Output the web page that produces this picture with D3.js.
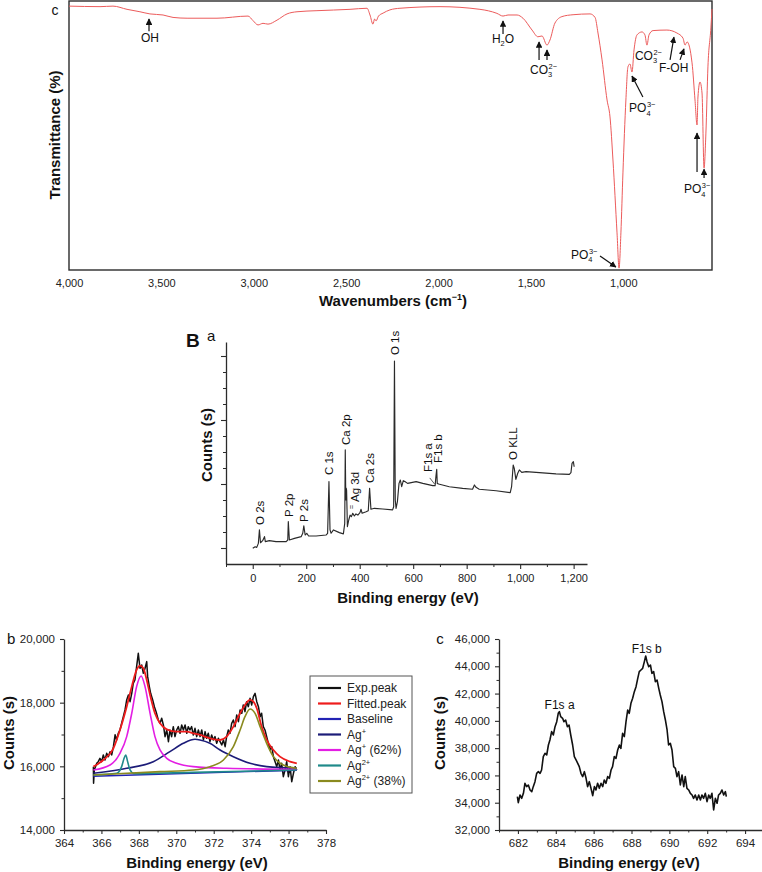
<!DOCTYPE html>
<html><head><meta charset="utf-8">
<script src="https://cdn.jsdelivr.net/npm/d3@7"></script>
<style>
body{margin:0;background:#fff}
svg{display:block}
</style></head>
<body><svg id="chart" width="762" height="872"></svg>
<script>
// ---------------- DATA ----------------
// Panel c (FTIR)
const ftirWn = [4000,3832,3762,3686,3616,3562,3491,3437,3361,3199,3031,3004,2977,2950,2923,2874,2820,2766,2658,2479,2387,2371,2355,2346,2338,2325,2300,2263,2209,1992,1776,1684,1651,1624,1575,1543,1494,1462,1440,1413,1397,1370,1332,1272,1180,1153,1137,1115,1088,1072,1056,1034,1023,1013,1002,986,975,964,953,942,926,899,883,872,861,839,764,710,677,666,655,628,612,601,596,585,574,563,553,542,526,520];
const ftirT = [98.1,97.9,98.1,96.9,96.0,95.2,94.8,93.9,93.6,93.6,94.4,92.7,91.1,91.7,91.4,92.9,95.2,96.0,96.4,96.9,97.3,94.8,91.4,93.3,92.6,94.4,95.5,96.7,97.3,97.9,96.9,95.4,94.4,94.8,94.8,93.6,89.2,86.7,87.0,83.6,85.5,91.8,94.2,94.9,95.2,93.9,88.1,78.1,63.2,56.9,40.9,13.8,0.7,13.8,36.1,63.2,75.5,76.6,73.6,81.8,87.4,88.5,87.4,83.6,87.4,89.0,89.2,88.1,86.2,83.6,84.8,77.0,63.2,53.9,64.3,69.9,65.8,37.9,50.9,75.5,90.0,97.0];
const ftirTicks = [4000,3500,3000,2500,2000,1500,1000];
// annotations: label parts, label anchor (wn,T), arrows [wnTail,Ttail,wnHead,Thead]
const ftirNotes = [
  {parts:[["OH"]], wn:3562, T:84.8, anchor:"middle", arrows:[[3567,88.8,3567,93.3]]},
  {parts:[["H"],["2","sub"],["O"]], wn:1651, T:84.4, anchor:"middle", arrows:[[1651,87.7,1651,92.6]]},
  {parts:[["CO"],["3","sub"],["2−","sup"]], wn:1505, T:72.9, anchor:"start", arrows:[[1456,78.1,1456,84.8],[1413,78.1,1413,81.8]]},
  {parts:[["PO"],["4","sub"],["3−","sup"]], wn:1283, T:4.1, anchor:"start", arrows:[[1126,5.2,1040,1.1]]},
  {parts:[["PO"],["4","sub"],["3−","sup"]], wn:969, T:58.7, anchor:"start", arrows:[[894,64.3,953,72.1]]},
  {parts:[["CO"],["3","sub"],["2−","sup"]], wn:937, T:78.1, anchor:"start", arrows:[]},
  {parts:[["F-OH"]], wn:807, T:73.6, anchor:"start", arrows:[[747,78.1,726,86.6],[693,78.1,672,82.2]]},
  {parts:[["PO"],["4","sub"],["3−","sup"]], wn:672, T:28.6, anchor:"start", arrows:[[601,36.4,601,50.9],[563,34.2,563,37.5]]}
];

// Panel B a (XPS survey)
const surveyEV = [0,9,15,21,25,29,37,44,47,62,87,125,131,133,137,156,181,187,191,196,202,209,237,274,280,285,289,293,302,324,339,344,346,348,349.5,351,354,359,364,369,374,380,386,393,401,405,409,424,432,437,442,455,486,523,527,530,533,536,541,547,552,557,563,569,579,611,636,673,682,685,688,690,695,735,785,822,829,835,847,910,963,968,974,978,984,991,997,1006,1022,1072,1134,1184,1190,1194,1199,1202];
const surveyCounts = [0.98,1.08,1.04,1.29,2.13,1.33,1.46,1.71,1.40,1.46,1.40,1.40,1.50,2.65,1.50,1.60,1.71,1.92,2.38,1.81,1.92,1.75,1.75,1.81,1.92,5.15,2.13,1.92,2.13,1.96,1.88,2.54,7.13,4.0,4.75,4.6,2.33,2.75,3.06,2.96,3.17,3.0,3.13,3.06,3.21,3.42,3.17,3.27,3.33,4.73,3.42,3.48,3.44,3.38,3.58,12.69,4.0,3.48,3.9,5.04,5.25,4.83,5.21,5.15,5.04,5.15,5.04,4.90,4.90,5.46,5.92,5.04,5.0,4.83,4.73,4.67,4.94,4.79,4.67,4.58,4.46,4.83,6.19,5.98,5.29,5.67,5.88,5.73,5.77,5.71,5.63,5.60,5.71,6.29,6.40,6.08];
const surveyXTicks = [0,200,400,600,800,1000,1200];
const surveyLabels = [
  {text:"O 2s", ev:26, v:2.44},{text:"P 2p", ev:135, v:2.94},{text:"P 2s", ev:191, v:2.63},
  {text:"C 1s", ev:284, v:5.56},{text:"Ca 2p", ev:348, v:7.44},{text:"Ag 3d", ev:381, v:3.88},
  {text:"Ca 2s", ev:437, v:5.06},{text:"O 1s", ev:531, v:13.06},{text:"F1s a", ev:654, v:5.75},
  {text:"F1s b", ev:692, v:6.31},{text:"O KLL", ev:972, v:6.5}
];

// Panel b (Ag 3d)
const agExpEV = [365.57,365.58,365.62,365.75,365.83,365.92,366.01,366.10,366.19,366.28,366.37,366.46,366.55,366.64,366.73,366.81,366.90,366.99,367.08,367.17,367.26,367.35,367.44,367.53,367.62,367.70,367.79,367.88,367.97,368.06,368.15,368.24,368.33,368.42,368.47,368.56,368.63,368.74,368.83,368.92,369.04,369.13,369.22,369.31,369.40,369.49,369.58,369.66,369.75,369.84,369.93,370.02,370.11,370.20,370.29,370.38,370.47,370.56,370.64,370.73,370.82,370.91,371.00,371.09,371.18,371.27,371.36,371.45,371.54,371.62,371.71,371.80,371.89,371.98,372.07,372.16,372.25,372.34,372.43,372.52,372.61,372.69,372.78,372.87,372.96,373.05,373.14,373.23,373.32,373.41,373.50,373.58,373.67,373.76,373.85,373.94,374.03,374.12,374.21,374.30,374.39,374.48,374.56,374.65,374.74,374.83,374.92,375.01,375.10,375.19,375.28,375.37,375.46,375.54,375.63,375.72,375.81,375.90,375.99,376.08,376.17,376.26,376.35,376.44];
const agExpCounts = [15990,15466,15885,16095,16147,16252,16147,16357,16199,16409,16304,16461,16357,16618,16990,16828,17037,17142,17352,17561,17771,18085,18242,18032,18294,18608,18713,19132,19551,19080,19184,18923,19080,19289,18818,18504,18294,18085,17875,17718,17456,17352,17509,17299,16933,17142,16775,17142,16933,17247,16933,17142,17247,17037,17299,17142,17299,17037,17247,17142,17247,16985,17194,16933,17142,16933,17142,16828,17090,16880,17037,16775,16985,16828,16933,16723,16880,16775,16671,16828,16618,16933,17142,17037,17352,17456,17247,17614,17404,17771,17666,17928,17718,18032,17875,18137,17928,18189,18294,18032,17875,17561,17666,17247,17142,16933,16723,16514,16618,16304,16147,15990,16199,15885,16095,15676,15885,16147,15676,15990,15519,15781,15990,15885];
const fitEV = [365.57,366.10,366.64,366.99,367.35,367.62,367.88,368.06,368.24,368.42,368.60,368.86,369.13,369.49,370.02,370.56,370.91,371.27,371.80,372.34,372.69,373.05,373.41,373.67,373.94,374.12,374.30,374.56,374.83,375.19,375.54,376.08,376.44];
const fitCounts = [15990,16199,16566,17142,17875,18504,19027,19163,19080,18713,18242,17666,17352,17163,17090,17090,17037,16985,16880,16828,16933,17247,17666,17928,18085,18032,17823,17247,16828,16514,16304,16147,16095];
const baseEV = [365.57,376.44];
const baseCounts = [15690,15880];
const agPlusEV = [365.57,367.35,368.77,369.66,370.38,371.00,371.27,371.80,372.34,373.05,373.94,374.83,376.44];
const agPlusCounts = [15781,15938,16147,16461,16723,16849,16828,16723,16514,16304,16095,15990,15938];
const agPlus62EV = [365.57,366.46,366.99,367.35,367.62,367.88,368.12,368.33,368.60,368.86,369.13,369.49,370.02,370.91,372.69,376.44];
const agPlus62Counts = [15885,16042,16409,16933,17666,18504,18839,18504,17666,16933,16514,16252,16095,15990,15938,15906];
const ag2EV = [365.57,366.81,367.08,367.21,367.30,367.40,367.53,367.74,370.91,376.44];
const ag2Counts = [15728,15781,15990,16252,16357,16147,15885,15770,15810,15885];
const ag2_38EV = [365.57,369.13,370.91,371.80,372.52,373.05,373.41,373.67,373.94,374.21,374.48,374.83,375.19,375.72,376.44];
const ag2_38Counts = [15728,15833,15885,15990,16199,16618,17142,17561,17802,17666,17247,16723,16304,16042,15938];
const agLegend = ["Exp.peak","Fitted.peak","Baseline","Ag+","Ag+ (62%)","Ag2+","Ag2+ (38%)"];
const agColors = ["#111111","#ee1c1c","#2323b4","#1c1c78","#e31ee3","#1f8a8a","#8a8a1f"];
const agXTicks = [364,366,368,370,372,374,376,378];
const agYTicks = [14000,16000,18000,20000];

// Panel c (F 1s)
const fEV = [681.97,682.02,682.11,682.20,682.29,682.37,682.46,682.55,682.64,682.73,682.81,682.90,682.99,683.08,683.17,683.25,683.34,683.43,683.52,683.61,683.69,683.78,683.87,683.96,684.05,684.13,684.19,684.26,684.36,684.43,684.52,684.61,684.70,684.79,684.89,684.98,685.07,685.16,685.24,685.33,685.42,685.51,685.60,685.68,685.77,685.86,685.95,686.04,686.12,686.21,686.30,686.39,686.48,686.56,686.65,686.74,686.83,686.92,687.00,687.09,687.18,687.27,687.36,687.44,687.53,687.62,687.71,687.80,687.88,687.97,688.06,688.15,688.24,688.33,688.41,688.50,688.59,688.68,688.75,688.82,688.91,689.00,689.08,689.17,689.26,689.35,689.44,689.52,689.61,689.70,689.79,689.88,689.96,690.05,690.14,690.23,690.32,690.40,690.49,690.58,690.67,690.76,690.84,690.93,691.02,691.11,691.20,691.28,691.37,691.46,691.55,691.64,691.72,691.81,691.90,691.99,692.08,692.16,692.25,692.34,692.43,692.52,692.60,692.69,692.78,692.87,692.96,693.01];
const fCounts = [34445,34006,34567,34323,34689,35422,35178,35300,34934,34811,35178,35544,36155,36277,36155,36399,37376,37620,37498,38231,38598,39209,38964,39575,39942,40553,40675,40308,40186,39942,40064,39575,39697,38964,38231,37376,37132,36888,36643,36155,35911,36277,35789,35178,35544,35056,34518,35178,34934,35422,35056,35422,35178,35666,35422,35911,35789,36399,36643,37376,37254,37865,38231,37987,39087,38842,39942,40797,40553,41286,41652,42140,42507,43118,43606,43728,43851,44339,44754,44339,43973,44095,43484,43606,42873,42995,42385,41896,41408,40675,40064,39331,38231,38354,37865,36643,36521,35911,36277,35300,36033,35178,35911,35056,34934,34689,34567,34323,34567,34201,34567,34201,34567,34323,34689,34079,34567,34323,34689,33468,34323,33957,34567,34689,34934,34567,34811,34445];
const fXTicks = [682,684,686,688,690,692,694];
const fYTicks = [32000,34000,36000,38000,40000,42000,44000,46000];
const fPeakLabels = [{text:"F1s a", ev:684.2, c:40900},{text:"F1s b", ev:688.8, c:45000}];

// ---------------- DRAW ----------------
const FONT = '"Liberation Sans", Arial, Helvetica, sans-serif';
const INK = "#2b2b2b";
const svg = d3.select("#chart").attr("font-family", FONT);
const fmt = d3.format(",");

svg.append("defs").append("marker")
  .attr("id","arr").attr("viewBox","0 0 10 10").attr("refX",9).attr("refY",5)
  .attr("markerWidth",5.5).attr("markerHeight",5.5).attr("orient","auto-start-reverse")
  .append("path").attr("d","M0,0 L10,5 L0,10 z").attr("fill","#111");

function styleAxis(g, fs){
  g.attr("font-family", FONT).attr("font-size", fs||11);
  g.select(".domain").attr("stroke", INK).attr("stroke-width", 1.3);
  g.selectAll(".tick line").attr("stroke", INK).attr("stroke-width", 1.1);
  g.selectAll(".tick text").attr("fill", "#222");
  return g;
}
function minorAxis(g, axis){
  g.call(axis); g.select(".domain").remove();
  g.selectAll(".tick line").attr("stroke", INK).attr("stroke-width", 1);
}
function chemText(g, x, y, parts, anchor, fs){
  const t = g.append("text").attr("x",x).attr("y",y).attr("text-anchor",anchor)
    .attr("font-size",fs).attr("fill","#111");
  let shift = 0;
  parts.forEach((p,i)=>{
    const ts = t.append("tspan").text(p[0]);
    if(p[1]==="sub"){ ts.attr("font-size",fs*0.62).attr("dy",3.5-shift); shift=3.5; }
    else if(p[1]==="sup"){
      const afterSub = parts[i-1] && parts[i-1][1]==="sub";
      ts.attr("font-size",fs*0.62).attr("dy", afterSub ? -8.5 : -5).attr("dx", afterSub ? -fs*0.3 : 0);
      shift=-5;
    }
    else { ts.attr("dy", -shift); shift=0; }
  });
  return t;
}

// ===== FTIR panel =====
{
  const x = d3.scaleLinear().domain([4000,520]).range([69,712]);
  const y = d3.scaleLinear().domain([0,100]).range([270,1]);
  const g = svg.append("g");
  g.append("rect").attr("x",x(4000)).attr("y",y(100)).attr("width",x(520)-x(4000)).attr("height",y(0)-y(100))
    .attr("fill","none").attr("stroke",INK).attr("stroke-width",1.4);
  const ax = g.append("g").attr("transform",`translate(0,${y(0)})`)
    .call(d3.axisBottom(x).tickValues(ftirTicks).tickSize(0).tickPadding(9).tickFormat(fmt));
  styleAxis(ax); ax.select(".domain").remove();
  const pts = ftirWn.map((w,i)=>[w, ftirT[i]]);
  g.append("path").datum(pts).attr("fill","none").attr("stroke","#ec5b5b").attr("stroke-width",1)
    .attr("d", d3.line().x(d=>x(d[0])).y(d=>y(d[1])).curve(d3.curveMonotoneX));
  ftirNotes.forEach(n=>{
    chemText(g, x(n.wn), y(n.T), n.parts, n.anchor, 12);
    n.arrows.forEach(a=>{
      g.append("line").attr("x1",x(a[0])).attr("y1",y(a[1])).attr("x2",x(a[2])).attr("y2",y(a[3]))
        .attr("stroke","#111").attr("stroke-width",1.2).attr("marker-end","url(#arr)");
    });
  });
  g.append("text").attr("x",55).attr("y",15).attr("font-size",14).attr("text-anchor","middle").attr("fill","#111").text("c");
  g.append("text").attr("transform",`translate(55,135) rotate(-90)`).attr("dy","0.35em").attr("text-anchor","middle")
    .attr("font-size",15).attr("font-weight","bold").attr("fill","#111").text("Transmittance (%)");
  const tt = g.append("text").attr("x",393).attr("y",306).attr("text-anchor","middle").attr("font-size",15)
    .attr("font-weight","bold").attr("fill","#111");
  tt.append("tspan").text("Wavenumbers (cm");
  tt.append("tspan").attr("font-size",9).attr("dy",-6).text("−1");
  tt.append("tspan").attr("dy",6).text(")");
}

// ===== Survey panel a =====
{
  const x = d3.scaleLinear().domain([-100,1250]).range([226,587]);
  const y = d3.scaleLinear().domain([0,13.875]).range([564,342]);
  const g = svg.append("g");
  const ax = g.append("g").attr("transform",`translate(0,564)`)
    .call(d3.axisBottom(x).tickValues(surveyXTicks).tickSize(5).tickPadding(5).tickFormat(fmt).tickSizeOuter(0));
  styleAxis(ax);
  minorAxis(g.append("g").attr("transform","translate(0,564)"),
    d3.axisBottom(x).tickValues(d3.range(-100,1250,200)).tickSize(3).tickFormat(""));
  const yTicks = d3.range(1,14);
  const ay = g.append("g").attr("transform","translate(226,0)")
    .call(d3.axisLeft(y).tickValues(yTicks.filter(t=>(t-1)%4===0)).tickSize(5).tickFormat("").tickSizeOuter(0));
  styleAxis(ay);
  minorAxis(g.append("g").attr("transform","translate(226,0)"),
    d3.axisLeft(y).tickValues(yTicks.filter(t=>(t-1)%4!==0)).tickSize(3).tickFormat(""));
  const pts = surveyEV.map((e,i)=>[e, surveyCounts[i]]);
  g.append("path").datum(pts).attr("fill","none").attr("stroke","#2a2a2a").attr("stroke-width",1.15)
    .attr("stroke-linejoin","round").attr("d", d3.line().x(d=>x(d[0])).y(d=>y(d[1])));
  surveyLabels.forEach(l=>{
    g.append("text").attr("transform",`translate(${x(l.ev)},${y(l.v)}) rotate(-90)`).attr("dy","0.35em")
      .attr("font-size",11.5).attr("fill","#111").text(l.text);
  });
  g.append("text").attr("transform",`translate(${x(370)},${y(3.44)}) rotate(-90)`).attr("dy","0.35em")
    .attr("font-size",7).attr("fill","#111").text("=");
  g.append("line").attr("x1",x(662)).attr("y1",y(5.38)).attr("x2",x(680)).attr("y2",y(5.0))
    .attr("stroke","#333").attr("stroke-width",0.8);
  g.append("text").attr("x",186).attr("y",347).attr("font-size",19).attr("font-weight","bold").attr("fill","#111").text("B");
  g.append("text").attr("x",207).attr("y",341).attr("font-size",15).attr("fill","#111").text("a");
  g.append("text").attr("transform","translate(207,445) rotate(-90)").attr("dy","0.35em").attr("text-anchor","middle")
    .attr("font-size",15).attr("font-weight","bold").attr("fill","#111").text("Counts (s)");
  g.append("text").attr("x",408).attr("y",603).attr("text-anchor","middle").attr("font-size",15)
    .attr("font-weight","bold").attr("fill","#111").text("Binding energy (eV)");
}

// ===== Ag 3d panel b =====
{
  const x = d3.scaleLinear().domain([364,378]).range([64,326]);
  const y = d3.scaleLinear().domain([14000,20000]).range([830,639]);
  const g = svg.append("g");
  const ax = g.append("g").attr("transform","translate(0,830)")
    .call(d3.axisBottom(x).tickValues(agXTicks).tickSize(4).tickPadding(5).tickSizeOuter(0));
  styleAxis(ax, 11.5);
  minorAxis(g.append("g").attr("transform","translate(0,830)"),
    d3.axisBottom(x).tickValues(d3.range(365,378,2)).tickSize(2.5).tickFormat(""));
  const ay = g.append("g").attr("transform","translate(64,0)")
    .call(d3.axisLeft(y).tickValues(agYTicks).tickSize(4).tickPadding(5).tickFormat(fmt).tickSizeOuter(0));
  styleAxis(ay, 11.5);
  minorAxis(g.append("g").attr("transform","translate(64,0)"),
    d3.axisLeft(y).tickValues([15000,17000,19000]).tickSize(2.5).tickFormat(""));
  const line = d3.line().x(d=>x(d[0])).y(d=>y(d[1]));
  const series = [
    [agExpEV, agExpCounts, d3.curveLinear, 1.5],
    [fitEV, fitCounts, d3.curveMonotoneX, 1.8],
    [baseEV, baseCounts, d3.curveLinear, 1.5],
    [agPlusEV, agPlusCounts, d3.curveMonotoneX, 1.6],
    [agPlus62EV, agPlus62Counts, d3.curveMonotoneX, 1.6],
    [ag2EV, ag2Counts, d3.curveMonotoneX, 1.6],
    [ag2_38EV, ag2_38Counts, d3.curveMonotoneX, 1.6]
  ];
  series.forEach((s,i)=>{
    g.append("path").datum(s[0].map((e,k)=>[e,s[1][k]])).attr("fill","none").attr("stroke",agColors[i])
      .attr("stroke-width",s[3]).attr("stroke-linejoin","round").attr("d", line.curve(s[2]));
  });
  // legend
  const lg = g.append("g");
  lg.append("rect").attr("x",310).attr("y",676).attr("width",102).attr("height",117)
    .attr("fill","#fff").attr("stroke","#555").attr("stroke-width",1);
  agLegend.forEach((name,i)=>{
    const yy = 688 + i*15.5;
    lg.append("line").attr("x1",318).attr("x2",341).attr("y1",yy).attr("y2",yy)
      .attr("stroke",agColors[i]).attr("stroke-width",2.2);
    const t = lg.append("text").attr("x",347).attr("y",yy).attr("dy","0.35em").attr("font-size",12).attr("fill","#222");
    const m = name.match(/^Ag(2?\+)(.*)$/);
    if(m){
      t.append("tspan").text("Ag");
      t.append("tspan").attr("font-size",7.5).attr("dy",-5).text(m[1]);
      t.append("tspan").attr("dy",5).text(m[2]);
    } else t.text(name);
  });
  g.append("text").attr("x",7).attr("y",644).attr("font-size",15).attr("fill","#111").text("b");
  g.append("text").attr("transform","translate(9,733) rotate(-90)").attr("dy","0.35em").attr("text-anchor","middle")
    .attr("font-size",15).attr("font-weight","bold").attr("fill","#111").text("Counts (s)");
  g.append("text").attr("x",197).attr("y",868).attr("text-anchor","middle").attr("font-size",15)
    .attr("font-weight","bold").attr("fill","#111").text("Binding energy (eV)");
}

// ===== F 1s panel c =====
{
  const x = d3.scaleLinear().domain([681,695]).range([499,764]);
  const y = d3.scaleLinear().domain([32000,46000]).range([830,639]);
  const g = svg.append("g");
  const ax = g.append("g").attr("transform","translate(0,830)")
    .call(d3.axisBottom(x).tickValues(fXTicks).tickSize(4).tickPadding(5).tickSizeOuter(0));
  styleAxis(ax, 11.5);
  minorAxis(g.append("g").attr("transform","translate(0,830)"),
    d3.axisBottom(x).tickValues(d3.range(681,695,2)).tickSize(2.5).tickFormat(""));
  const ay = g.append("g").attr("transform","translate(499,0)")
    .call(d3.axisLeft(y).tickValues(fYTicks).tickSize(4).tickPadding(5).tickFormat(fmt).tickSizeOuter(0));
  styleAxis(ay, 11.5);
  minorAxis(g.append("g").attr("transform","translate(499,0)"),
    d3.axisLeft(y).tickValues(d3.range(33000,46000,2000)).tickSize(2.5).tickFormat(""));
  g.append("path").datum(fEV.map((e,i)=>[e,fCounts[i]])).attr("fill","none").attr("stroke","#111")
    .attr("stroke-width",1.6).attr("stroke-linejoin","round").attr("d", d3.line().x(d=>x(d[0])).y(d=>y(d[1])));
  fPeakLabels.forEach(l=>{
    g.append("text").attr("x",x(l.ev)).attr("y",y(l.c)).attr("text-anchor","middle").attr("font-size",12)
      .attr("fill","#111").text(l.text);
  });
  g.append("text").attr("x",440).attr("y",644).attr("text-anchor","middle").attr("font-size",15).attr("fill","#111").text("c");
  g.append("text").attr("transform","translate(440,733) rotate(-90)").attr("dy","0.35em").attr("text-anchor","middle")
    .attr("font-size",15).attr("font-weight","bold").attr("fill","#111").text("Counts (s)");
  g.append("text").attr("x",629).attr("y",868).attr("text-anchor","middle").attr("font-size",15)
    .attr("font-weight","bold").attr("fill","#111").text("Binding energy (eV)");
}
</script></body></html>
